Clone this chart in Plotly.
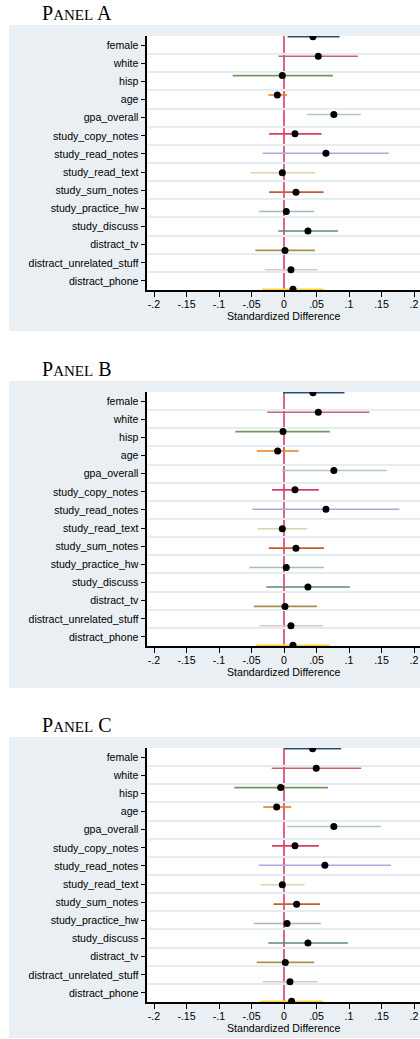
import plotly.graph_objects as go

# ---------------- data ----------------
variables = ["female", "white", "hisp", "age", "gpa_overall", "study_copy_notes",
             "study_read_notes", "study_read_text", "study_sum_notes", "study_practice_hw",
             "study_discuss", "distract_tv", "distract_unrelated_stuff", "distract_phone"]

line_colors = ["#2b4c74", "#c4646d", "#76955a", "#e48020", "#b2c4bc", "#e23a5c",
               "#ada6e0", "#dad4ae", "#c25c38", "#a9b8c8", "#5a8983", "#a88f4f",
               "#dcc8c4", "#ffd236"]

panel_a_est = [0.0445, 0.0527, -0.0026, -0.0103, 0.0767, 0.0169, 0.0645,
               -0.0026, 0.0184, 0.0035, 0.0368, 0.0015, 0.0107, 0.0138]
panel_a_lo = [0.0055, -0.0083, -0.0789, -0.0241, 0.0358, -0.0230, -0.0328,
              -0.0517, -0.0230, -0.0384, -0.0087, -0.0440, -0.0297, -0.0338]
panel_a_hi = [0.0853, 0.1136, 0.0752, 0.0046, 0.1182, 0.0577, 0.1612,
              0.0476, 0.0608, 0.0465, 0.0829, 0.0476, 0.0516, 0.0608]

panel_b_est = [0.0445, 0.0527, -0.0015, -0.0098, 0.0767, 0.0169, 0.0645,
               -0.0026, 0.0184, 0.0035, 0.0368, 0.0015, 0.0107, 0.0138]
panel_b_lo = [-0.0015, -0.0256, -0.0748, -0.0420, -0.0031, -0.0184, -0.0487,
              -0.0405, -0.0236, -0.0533, -0.0272, -0.0466, -0.0379, -0.0430]
panel_b_hi = [0.0930, 0.1314, 0.0706, 0.0225, 0.1580, 0.0537, 0.1775,
              0.0358, 0.0614, 0.0614, 0.1013, 0.0506, 0.0598, 0.0706]

panel_c_est = [0.0440, 0.0496, -0.0052, -0.0113, 0.0767, 0.0169, 0.0629,
               -0.0026, 0.0194, 0.0046, 0.0368, 0.0020, 0.0092, 0.0117]
panel_c_lo = [0.0005, -0.0190, -0.0763, -0.0318, 0.0051, -0.0184, -0.0390,
              -0.0359, -0.0160, -0.0466, -0.0241, -0.0420, -0.0328, -0.0364]
panel_c_hi = [0.0880, 0.1187, 0.0675, 0.0112, 0.1489, 0.0537, 0.1642,
              0.0316, 0.0553, 0.0568, 0.0982, 0.0465, 0.0516, 0.0598]

panel_titles = ["A", "B", "C"]
x_tickvals = [-0.2, -0.15, -0.1, -0.05, 0, 0.05, 0.1, 0.15, 0.2]
x_ticktext = ["-.2", "-.15", "-.1", "-.05", "0", ".05", ".1", ".15", ".2"]
x_title = "Standardized Difference"

panels = [(panel_a_est, panel_a_lo, panel_a_hi),
          (panel_b_est, panel_b_lo, panel_b_hi),
          (panel_c_est, panel_c_lo, panel_c_hi)]

# ---------------- layout geometry (pixels) ----------------
W, H = 420, 1039
plot_top = [36, 392, 748]
plot_bot = [290, 646, 1002]
gray_top = [25, 381, 737]
gray_bot = [331, 688, 1038]
title_y = [13, 369, 725]
x_left_px = 147.3

BG = "#e9eff2"
GRID = "#e6edf0"
SANS = "Liberation Sans, Arial, sans-serif"
SERIF = "Liberation Serif, Times New Roman, serif"

fig = go.Figure()
shapes = []
annotations = []
n = len(variables)
pos = list(range(n))

for p, (est, lo, hi) in enumerate(panels):
    k = p + 1
    xname = "x" if k == 1 else f"x{k}"
    yname = "y" if k == 1 else f"y{k}"
    lab = 3 + k  # label axis index
    ylabname = f"y{lab}"

    # invisible trace so the category-label axis is created and drawn
    fig.add_trace(go.Scatter(
        x=est, y=pos, mode="markers", marker=dict(opacity=0, size=1),
        xaxis=xname, yaxis=ylabname, showlegend=False, hoverinfo="skip"))

    for i in range(n):
        fig.add_trace(go.Scatter(
            x=[lo[i], hi[i]], y=[pos[i], pos[i]], mode="lines",
            line=dict(color=line_colors[i], width=1.6),
            xaxis=xname, yaxis=yname, showlegend=False, hoverinfo="skip"))
    fig.add_trace(go.Scatter(
        x=est, y=pos, mode="markers",
        marker=dict(color="black", size=7),
        xaxis=xname, yaxis=yname, showlegend=False))

    dom = [1 - plot_bot[p] / H, 1 - plot_top[p] / H]
    xkey = "xaxis" if k == 1 else f"xaxis{k}"
    ykey = "yaxis" if k == 1 else f"yaxis{k}"
    fig.layout[xkey] = dict(
        domain=[x_left_px / W, 1], anchor=yname, range=[-0.2103, 0.2092],
        tickmode="array", tickvals=x_tickvals, ticktext=x_ticktext,
        ticks="outside", ticklen=5, tickwidth=1.2, tickcolor="black",
        ticklabelstandoff=-1,
        showline=True, linecolor="black", linewidth=1.5,
        showgrid=False, zeroline=False,
        tickfont=dict(family=SANS, size=10.6, color="black"))
    fig.layout[ykey] = dict(
        domain=dom, anchor=xname, range=[n - 1 + 0.04, -0.04],
        showticklabels=False, ticks="", showgrid=False, zeroline=False,
        showline=False)
    fig.layout[f"yaxis{lab}"] = dict(
        overlaying=yname, anchor=xname, side="left", range=[n - 0.5, -0.5],
        tickmode="array", tickvals=pos, ticktext=variables,
        ticks="outside", ticklen=5, tickwidth=1.2, tickcolor="black",
        showline=True, linecolor="black", linewidth=1.5,
        showgrid=False, zeroline=False,
        minor=dict(tickmode="array", tickvals=[v + 0.5 for v in pos[:-1]],
                   showgrid=True, gridcolor=GRID, gridwidth=1.6, ticks=""),
        tickfont=dict(family=SANS, size=10.6, color="black"))

    # gray graph region and white plot region
    shapes.append(dict(type="rect", xref="paper", yref="paper", layer="below",
                       x0=9 / W, x1=1.02, y0=1 - gray_bot[p] / H, y1=1 - gray_top[p] / H,
                       fillcolor=BG, line=dict(width=0)))
    shapes.append(dict(type="rect", xref=f"{xname} domain", yref=f"{yname} domain",
                       layer="below", x0=0, x1=1, y0=0, y1=1,
                       fillcolor="white", line=dict(width=0)))
    # zero reference line
    shapes.append(dict(type="line", xref=xname, yref=f"{yname} domain", layer="below",
                       x0=0, x1=0, y0=0, y1=1,
                       line=dict(color="#e0648a", width=2)))

    annotations.append(dict(
        xref="paper", yref="paper", x=40 / W, y=1 - title_y[p] / H,
        xanchor="left", yanchor="middle", showarrow=False,
        text=f"P<span style='font-size:15px'>ANEL</span> {panel_titles[p]}",
        font=dict(family=SERIF, size=20, color="black")))
    annotations.append(dict(
        xref=f"{xname} domain", yref=f"{yname} domain", x=0.5, y=0,
        yshift=-26, xanchor="center", yanchor="middle", showarrow=False,
        text=x_title, font=dict(family=SANS, size=10.6, color="black")))

fig.update_layout(
    width=W, height=H, margin=dict(l=0, r=0, t=0, b=0),
    paper_bgcolor="white", plot_bgcolor="white",
    shapes=shapes, annotations=annotations, showlegend=False)

fig.write_html("out.html", config={"displayModeBar": False},
               post_script="document.body.style.margin='0';document.body.style.overflow='hidden';")
